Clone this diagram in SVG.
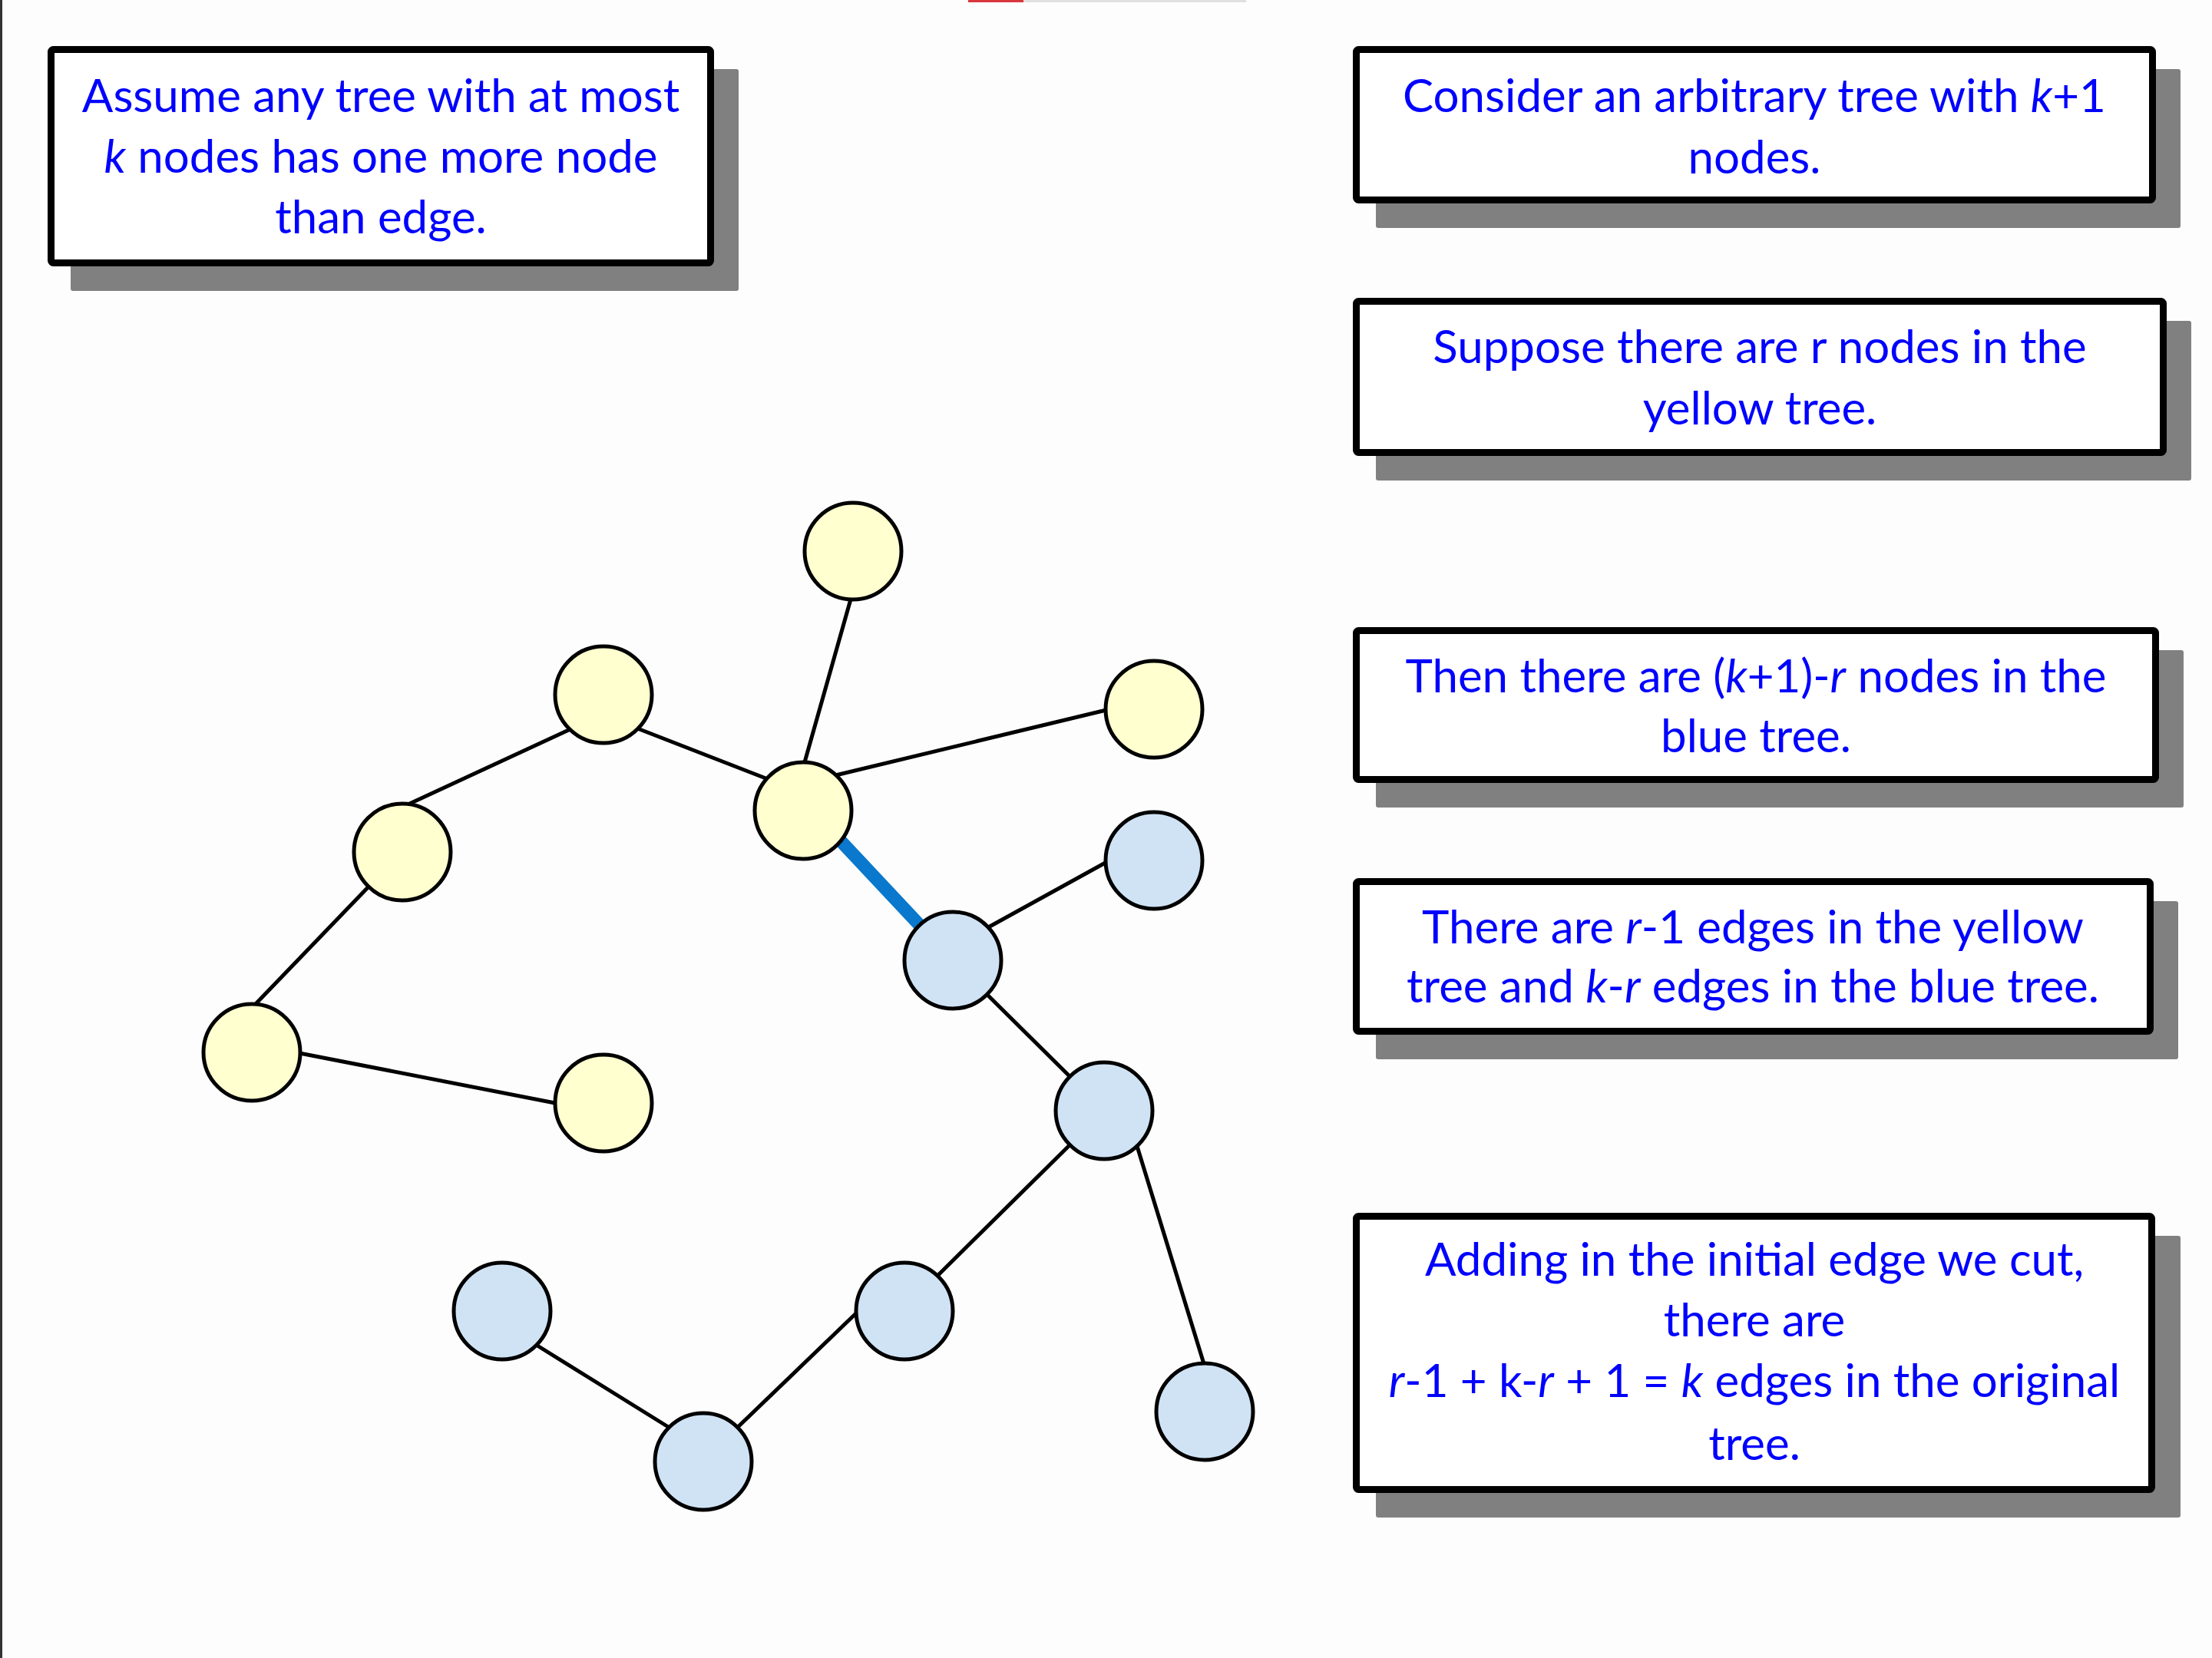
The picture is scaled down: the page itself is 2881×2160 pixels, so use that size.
<svg xmlns="http://www.w3.org/2000/svg" width="2881" height="2160" viewBox="0 0 2881 2160">
<style>
.bg{fill:#fdfdfd}
.shadow{fill:#808080}
.box{fill:#ffffff;stroke:#000000;stroke-width:9}
.t{font-family:Lato,"Liberation Sans",sans-serif;font-size:60px;fill:#0000ff;text-anchor:middle}
.i{font-style:italic}
.edge{stroke:#000000;stroke-width:5;stroke-linecap:round}
.cut{stroke:#0a78cc;stroke-width:17;stroke-linecap:butt}
.y{fill:#ffffcf;stroke:#000000;stroke-width:5}
.b{fill:#d0e3f5;stroke:#000000;stroke-width:5}
</style>
<rect class="bg" x="0" y="0" width="2881" height="2160"/>
<rect x="0" y="0" width="3" height="2160" fill="#333333"/>
<rect x="1261" y="0" width="72" height="3" fill="#d9363e"/>
<rect x="1333" y="0" width="290" height="3" fill="#e0e0e0"/>

<g id="box1">
<rect class="shadow" x="92" y="90" width="870" height="289" rx="3"/>
<rect class="box" x="66.5" y="64.5" width="859" height="278" rx="3"/>
<text class="t" x="496" y="146">Assume any tree with at most</text>
<text class="t" x="496" y="225"><tspan class="i">k</tspan> nodes has one more node</text>
<text class="t" x="496" y="304">than edge.</text>
</g>

<g id="box2">
<rect class="shadow" x="1792" y="90" width="1048" height="207" rx="3"/>
<rect class="box" x="1766.5" y="64.5" width="1037" height="196" rx="3"/>
<text class="t" x="2285" y="146">Consider an arbitrary tree with <tspan class="i">k</tspan>+1</text>
<text class="t" x="2285" y="226">nodes.</text>
</g>

<g id="box3">
<rect class="shadow" x="1792" y="418" width="1062" height="208" rx="3"/>
<rect class="box" x="1766.5" y="392.5" width="1051" height="197" rx="3"/>
<text class="t" x="2292" y="473">Suppose there are r nodes in the</text>
<text class="t" x="2292" y="553">yellow tree.</text>
</g>

<g id="box4">
<rect class="shadow" x="1792" y="847" width="1052" height="205" rx="3"/>
<rect class="box" x="1766.5" y="821.5" width="1041" height="194" rx="3"/>
<text class="t" x="2287" y="902">Then there are (<tspan class="i">k</tspan>+1)-<tspan class="i">r</tspan> nodes in the</text>
<text class="t" x="2287" y="980">blue tree.</text>
</g>

<g id="box5">
<rect class="shadow" x="1792" y="1174" width="1045" height="206" rx="3"/>
<rect class="box" x="1766.5" y="1148.5" width="1034" height="195" rx="3"/>
<text class="t" x="2283" y="1229">There are <tspan class="i">r</tspan>-1 edges in the yellow</text>
<text class="t" x="2283" y="1306">tree and <tspan class="i">k</tspan>-<tspan class="i">r</tspan> edges in the blue tree.</text>
</g>

<g id="box6">
<rect class="shadow" x="1792" y="1610" width="1048" height="367" rx="3"/>
<rect class="box" x="1766.5" y="1584.5" width="1036" height="356" rx="3"/>
<text class="t" x="2285" y="1662">Adding in the initial edge we cut,</text>
<text class="t" x="2285" y="1741">there are</text>
<text class="t" x="2285" y="1820"><tspan class="i">r</tspan>-1 + k-<tspan class="i">r</tspan> + 1 = <tspan class="i">k</tspan> edges in the original</text>
<text class="t" x="2285" y="1902">tree.</text>
</g>

<g id="connectors">
<line class="edge" x1="1111" y1="770" x2="1046" y2="1000"/>
<line class="edge" x1="820" y1="945" x2="1000" y2="1015"/>
<line class="edge" x1="1080" y1="1012" x2="1445" y2="924"/>
<line class="edge" x1="745" y1="949" x2="527" y2="1050"/>
<line class="edge" x1="485" y1="1150" x2="329" y2="1312"/>
<line class="edge" x1="385" y1="1371" x2="728" y2="1438"/>
<line class="edge cut" x1="1085" y1="1085" x2="1206" y2="1214"/>
<line class="edge" x1="1280" y1="1212" x2="1445" y2="1121"/>
<line class="edge" x1="1282" y1="1292" x2="1398" y2="1407"/>
<line class="edge" x1="1395" y1="1490" x2="1220" y2="1663"/>
<line class="edge" x1="1480" y1="1490" x2="1569" y2="1780"/>
<line class="edge" x1="1118" y1="1708" x2="958" y2="1862"/>
<line class="edge" x1="872" y1="1860" x2="695" y2="1750"/>
</g>

<g id="y1"><circle class="y" cx="1111" cy="718" r="63"/></g>
<g id="y2"><circle class="y" cx="786" cy="905" r="63"/></g>
<g id="y3"><circle class="y" cx="1503" cy="924" r="63"/></g>
<g id="y4"><circle class="y" cx="1046" cy="1056" r="63"/></g>
<g id="y5"><circle class="y" cx="524" cy="1110" r="63"/></g>
<g id="y6"><circle class="y" cx="328" cy="1371" r="63"/></g>
<g id="y7"><circle class="y" cx="786" cy="1437" r="63"/></g>
<g id="b1"><circle class="b" cx="1503" cy="1121" r="63"/></g>
<g id="b2"><circle class="b" cx="1241" cy="1251" r="63"/></g>
<g id="b3"><circle class="b" cx="1438" cy="1447" r="63"/></g>
<g id="b4"><circle class="b" cx="654" cy="1708" r="63"/></g>
<g id="b5"><circle class="b" cx="1178" cy="1708" r="63"/></g>
<g id="b6"><circle class="b" cx="1569" cy="1839" r="63"/></g>
<g id="b7"><circle class="b" cx="916" cy="1904" r="63"/></g>
</svg>
